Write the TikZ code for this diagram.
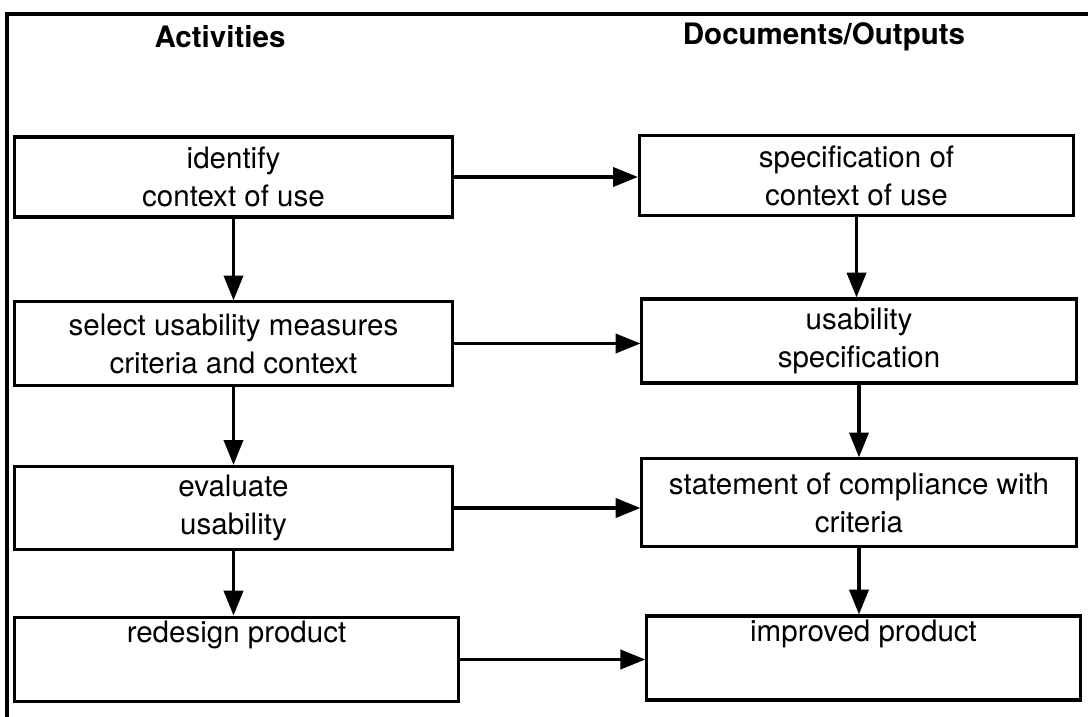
\documentclass[tikz,border=0pt]{standalone}
\usepackage{fontspec}
\setmainfont{TeX Gyre Heros}
\usetikzlibrary{arrows.meta}

\begin{document}
\begin{tikzpicture}
   [
     x                 = 0.025cm,
     y                 = -0.025cm,
     line width        = 2.2pt,
     every node/.style = {font=\fontsize{21}{27}\selectfont},
     heading/.style    = {font=\fontsize{21}{27}\selectfont\bfseries},
     stage/.style      = {shape=rectangle, draw, align=center, inner sep=0pt},
     activity/.style   = {stage, minimum width=10.95cm, minimum height=2.08cm},
     output/.style     = {stage, minimum width=10.85cm, minimum height=2.1cm},
     toptext/.style    = {text height=0.55cm, text depth=1.4cm},
     flow/.style       = {draw, -{Triangle[length=0.62cm, width=0.48cm]}}
   ]
    \useasboundingbox (0,0) rectangle (1088,717);
    \draw (7,14) rectangle (1100,730);

    \node [heading] (act) at (220,37) {Activities};
    \node [heading] (doc) at (824,37) {Documents/Outputs};

    % activities
    \node [activity, minimum height=2cm] (identify) at (233.5,177)
      {identify\\context of use};
    \node [activity] (select) at (233.5,343.5)
      {select usability measures\\criteria and context};
    \node [activity] (evaluate) at (233.5,508)
      {evaluate\\usability};
    \node [activity, toptext, minimum width=11.1cm, minimum height=2.12cm]
      (redesign) at (236.5,659.5) {redesign product};

    % documents / outputs
    \node [output, minimum height=2.02cm] (spec) at (856.5,175.5)
      {specification of\\context of use};
    \node [output] (usespec) at (859,341)
      {usability\\specification};
    \node [output, minimum height=2.18cm] (comply) at (859,502.5)
      {statement of compliance with\\criteria};
    \node [output, toptext, minimum width=10.83cm] (improved) at (863.5,658)
      {improved product};

    \draw [flow] (identify.east) -- (identify.east -| spec.west);
    \draw [flow] (select.east)   -- (select.east -| usespec.west);
    \draw [flow] (evaluate.east) -- (evaluate.east -| comply.west);
    \draw [flow] (redesign.east) -- (redesign.east -| improved.west);

    \draw [flow] (identify.south) -- (identify.south |- select.north);
    \draw [flow] (select.south)   -- (select.south |- evaluate.north);
    \draw [flow] (evaluate.south) -- (evaluate.south |- redesign.north);

    \draw [flow] (spec.south)    -- (spec.south |- usespec.north);
    \draw [flow] (usespec.south) -- (usespec.south |- comply.north);
    \draw [flow] (comply.south)  -- (comply.south |- improved.north);
\end{tikzpicture}
\end{document}
